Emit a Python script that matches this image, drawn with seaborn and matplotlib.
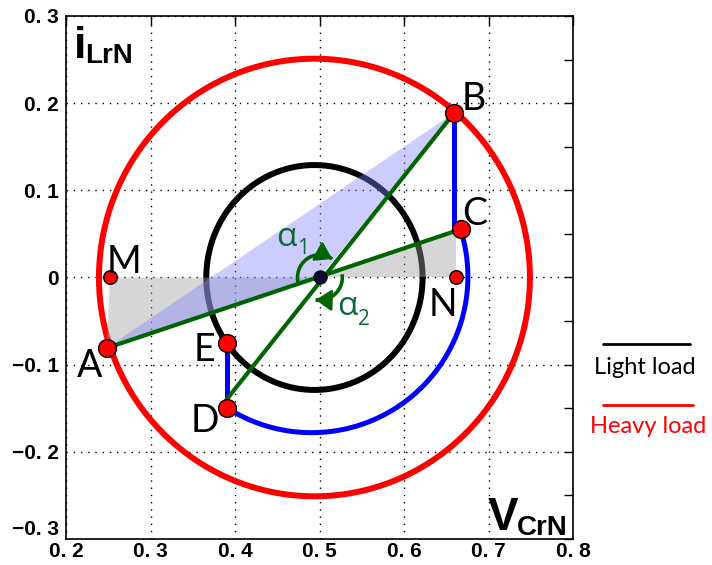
import numpy as np
import matplotlib
matplotlib.use("Agg")
import matplotlib.pyplot as plt
from matplotlib.lines import Line2D
from matplotlib.ticker import FixedLocator
import seaborn as sns

# ---- operating points in the normalized state plane (V_CrN, i_LrN) ----
point_names = ["B", "C", "M", "N", "A", "E", "D"]
point_x = [0.6595, 0.667, 0.252, 0.661, 0.248, 0.390, 0.390]
point_y = [0.189, 0.0553, 0.0, 0.0, -0.081, -0.0748, -0.150]
point_big = [True, True, False, False, True, True, True]
# label offsets (points) relative to each operating point
label_dx = [14, 10, 10, -9, -12, -16, -16]
label_dy = [10, 11, 11, -20, -13, -5, -9]

origin_x, origin_y = 0.5, 0.0
# lower end of the B chord through the origin
chord_end_y = -0.140

# circular trajectories: centre and radii
light_cx, light_cy, light_rx, light_ry = 0.494, 0.0, 0.128, 0.129
heavy_cx, heavy_cy, heavy_rx, heavy_ry = 0.494, 0.0, 0.255, 0.251
traj_cx, traj_cy, traj_rx, traj_ry = 0.4906, 0.001, 0.185, 0.179

# angle markers around the origin (degrees, radii in data units)
angle_names = ["1", "2"]
angle_start = [192, 8]
angle_end = [55, -100]
angle_rx = [0.026, 0.027]
angle_ry = [0.026, 0.026]

x_ticks = [0.2, 0.3, 0.4, 0.5, 0.6, 0.7, 0.8]
x_tick_labels = ["0. 2", "0. 3", "0. 4", "0. 5", "0. 6", "0. 7", "0. 8"]
y_ticks = [-0.3, -0.2, -0.1, 0.0, 0.1, 0.2, 0.3]
y_tick_labels = ["\u22120. 3", "\u22120. 2", "\u22120. 1", "0", "0. 1", "0. 2", "0. 3"]

legend_labels = ["Light load", "Heavy load"]

GREEN = "#006400"
ALPHA_GREEN = "#0a6a34"

sns.set_theme(style="white")
plt.rcParams["font.family"] = ["Lato", "Open Sans", "DejaVu Sans"]

fig = plt.figure(figsize=(7.12, 5.65), dpi=100)
ax = fig.add_axes([0.0927, 0.046, 0.7121, 0.9257])

P = {n: (x, y) for n, x, y in zip(point_names, point_x, point_y)}


def ellipse(cx, cy, rx, ry, t0=0.0, t1=2 * np.pi, n=400):
    t = np.linspace(t0, t1, n)
    return cx + rx * np.cos(t), cy + ry * np.sin(t)


# light and heavy load resonant circles
lx, ly = ellipse(light_cx, light_cy, light_rx, light_ry)
sns.lineplot(x=lx, y=ly, sort=False, estimator=None, color="black", lw=4.3, ax=ax, zorder=2)
hx, hy = ellipse(heavy_cx, heavy_cy, heavy_rx, heavy_ry)
sns.lineplot(x=hx, y=hy, sort=False, estimator=None, color="red", lw=4.3, ax=ax, zorder=2)

# shaded triangles
ax.fill([P["M"][0], origin_x, P["A"][0]], [P["M"][1], origin_y, P["A"][1]],
        color=(0.62, 0.62, 0.62), alpha=0.42, lw=0, zorder=3)
ax.fill([origin_x, P["N"][0], P["N"][0]], [origin_y, P["N"][1], P["C"][1]],
        color=(0.62, 0.62, 0.62), alpha=0.42, lw=0, zorder=3)
ax.fill([P["A"][0], P["B"][0], origin_x], [P["A"][1], P["B"][1], origin_y],
        color=(0.5, 0.5, 1.0), alpha=0.4, lw=0, zorder=3)

# transition trajectory B -> C -> (arc) -> D -> E
sns.lineplot(x=[P["B"][0], P["B"][0]], y=[P["B"][1], P["C"][1]], sort=False,
             estimator=None, color="blue", lw=3.6, ax=ax, zorder=4)
tC = np.arctan2((P["C"][1] - traj_cy) / traj_ry, (P["C"][0] - traj_cx) / traj_rx)
tD = np.arctan2((P["D"][1] - traj_cy) / traj_ry, (P["D"][0] - traj_cx) / traj_rx)
if tD > tC:
    tD -= 2 * np.pi
arc_x, arc_y = ellipse(traj_cx, traj_cy, traj_rx, traj_ry, tC, tD)
sns.lineplot(x=arc_x, y=arc_y, sort=False, estimator=None, color="blue", lw=3.6, ax=ax, zorder=4)
sns.lineplot(x=[P["D"][0], P["E"][0]], y=[P["D"][1], P["E"][1]], sort=False,
             estimator=None, color="blue", lw=3.6, ax=ax, zorder=4)

# chords through the origin: B -> D column, A -> C
sns.lineplot(x=[P["B"][0], P["D"][0]], y=[P["B"][1], chord_end_y], sort=False,
             estimator=None, color=GREEN, lw=3.0, ax=ax, zorder=5)
sns.lineplot(x=[P["A"][0], P["C"][0]], y=[P["A"][1], P["C"][1]], sort=False,
             estimator=None, color=GREEN, lw=3.0, ax=ax, zorder=5)

# angle arcs with arrowheads
for name, a0, a1, rx, ry in zip(angle_names, angle_start, angle_end, angle_rx, angle_ry):
    t0, t1 = np.radians(a0), np.radians(a1)
    gx, gy = ellipse(origin_x, origin_y, rx, ry, t0, t1, 120)
    ax.plot(gx, gy, color=GREEN, lw=2.6, zorder=5, solid_capstyle="butt")
    tb = t1 + np.radians(16) * np.sign(t0 - t1)
    ax.annotate("", xy=(origin_x + rx * np.cos(t1), origin_y + ry * np.sin(t1)),
                xytext=(origin_x + rx * np.cos(tb), origin_y + ry * np.sin(tb)),
                arrowprops=dict(arrowstyle="-|>,head_length=0.6,head_width=0.4",
                                color=GREEN, lw=2.0, shrinkA=0, shrinkB=0,
                                mutation_scale=16), zorder=6)

# operating points
big = [i for i, b in enumerate(point_big) if b]
small = [i for i, b in enumerate(point_big) if not b]
sns.scatterplot(x=[point_x[i] for i in big], y=[point_y[i] for i in big], s=165,
                color="red", edgecolor="black", linewidth=1.0, ax=ax, zorder=7, legend=False)
sns.scatterplot(x=[point_x[i] for i in small], y=[point_y[i] for i in small], s=95,
                color="red", edgecolor="black", linewidth=1.0, ax=ax, zorder=7, legend=False)
sns.scatterplot(x=[origin_x], y=[origin_y], s=90, color="#0a0a30", edgecolor="black",
                linewidth=0.8, ax=ax, zorder=7, legend=False)

for n, x, y, dx, dy in zip(point_names, point_x, point_y, label_dx, label_dy):
    ax.annotate(n, xy=(x, y), xytext=(dx, dy), textcoords="offset points",
                ha="center", va="center", fontsize=27, color="black",
                family=["Lato", "DejaVu Sans"], zorder=8)

# angle labels: greek letter with a smaller index to its lower right
greek = dict(textcoords="offset points", color=ALPHA_GREEN,
             family=["Open Sans", "DejaVu Sans"], zorder=8)
ax.annotate("\u03b1", xy=(origin_x, origin_y), xytext=(-24, 29), fontsize=24,
            ha="center", va="center", **greek)
ax.annotate(angle_names[0], xy=(origin_x, origin_y), xytext=(-16, 21), fontsize=15,
            ha="left", va="center", **greek)
ax.annotate("\u03b1", xy=(origin_x, origin_y), xytext=(20, -21), fontsize=24,
            ha="center", va="center", **greek)
ax.annotate(angle_names[1], xy=(origin_x, origin_y), xytext=(28, -30), fontsize=15,
            ha="left", va="center", **greek)

# axes, ticks, grid
ax.set_xlim(0.2, 0.8)
ax.set_ylim(-0.3, 0.3)
ax.set_xticks(x_ticks)
ax.set_xticklabels(x_tick_labels)
ax.set_yticks(y_ticks)
ax.set_yticklabels(y_tick_labels)
ax.yaxis.set_minor_locator(FixedLocator([-0.25, -0.15, -0.05, 0.05, 0.15, 0.25]))
ax.tick_params(which="major", direction="in", length=6.5, width=1.0, top=True, right=True,
               colors="black", labelsize=15)
ax.tick_params(axis="x", which="major", pad=2)
ax.tick_params(axis="y", which="major", pad=5)
ax.tick_params(axis="y", which="minor", direction="in", length=6.5, width=1.0,
               left=False, right=True, colors="black")
for lab in ax.get_xticklabels() + ax.get_yticklabels():
    lab.set_fontweight("bold")
    lab.set_family(["Liberation Sans", "DejaVu Sans"])
# lowest y label sits just above the corner
ax.get_yticklabels()[0].set_va("bottom")
ax.grid(True, which="major", color="black", linestyle=(0, (1, 4.2)), linewidth=1.0)
ax.set_axisbelow(True)
for sp in ax.spines.values():
    sp.set_color("black")
    sp.set_linewidth(1.2)
ax.set_xlabel("")
ax.set_ylabel("")

# axis names inside the frame
bold = dict(fontweight="bold", family=["Liberation Sans", "DejaVu Sans"], color="black")
ax.text(0.0158, 0.9197, "i", transform=ax.transAxes, fontsize=32, va="baseline", ha="left", **bold)
ax.text(0.0375, 0.910, "LrN", transform=ax.transAxes, fontsize=20, va="baseline", ha="left", **bold)
ax.text(0.832, 0.0172, "V", transform=ax.transAxes, fontsize=33, va="baseline", ha="left", **bold)
ax.text(0.8895, 0.0076, "CrN", transform=ax.transAxes, fontsize=20, va="baseline", ha="left", **bold)

# legend drawn beside the axes: line above its label
fig.add_artist(Line2D([0.847, 0.969], [0.3912, 0.3912], color="black", lw=2.0,
                      transform=fig.transFigure))
fig.text(0.906, 0.349, legend_labels[0], color="black", fontsize=17, ha="center", va="center",
         family=["Lato", "DejaVu Sans"])
fig.add_artist(Line2D([0.847, 0.973], [0.283, 0.283], color="red", lw=2.0,
                      transform=fig.transFigure))
fig.text(0.910, 0.246, legend_labels[1], color="red", fontsize=17, ha="center", va="center",
         family=["Lato", "DejaVu Sans"])

fig.savefig("out.png", dpi=100)
